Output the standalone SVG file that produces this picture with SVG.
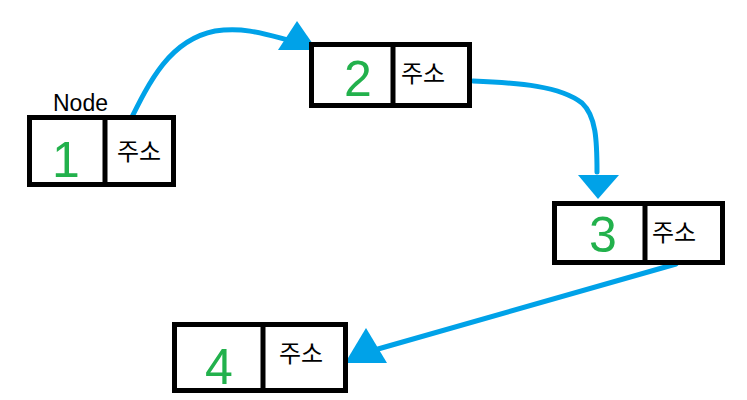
<svg xmlns="http://www.w3.org/2000/svg" width="747" height="400" viewBox="0 0 747 400">
<style>
.box{fill:#fff;stroke:#000;stroke-width:5}
.div{stroke:#000;stroke-width:5}
.num{font-family:"Liberation Sans",Arial,sans-serif;font-size:50px;fill:#22b14c;text-anchor:middle}
.addr{font-family:"Liberation Sans","Noto Sans CJK KR",sans-serif;font-size:24px;fill:#000}
.lbl{font-family:"Liberation Sans",Arial,sans-serif;font-size:23px;fill:#000}
.wire{fill:none;stroke:#00a2e8;stroke-width:5;stroke-linecap:round}
.head{fill:#00a2e8}
</style>
<rect width="747" height="400" fill="#fff"/>
<g id="connectors">
<path class="wire" d="M128,125 C150,80 170,40 215,31 C245,27 265,34 288,40"/>
<polygon class="head" points="297,21 278,50 317,50"/>
<path class="wire" d="M473,81 C520,83 560,86 582,103 C596,116 597,140 597,172"/>
<polygon class="head" points="578,175 619,175 598,199"/>
<path class="wire" d="M676,264 L378,349"/>
<polygon class="head" points="366,328 345,363 387,363"/>
</g>
<g id="node1">
<text class="lbl" x="53" y="111">Node</text>
<rect class="box" x="29.5" y="117.5" width="144" height="67"/>
<line class="div" x1="105" y1="117.5" x2="105" y2="184.5"/>
<text class="num" x="66" y="177">1</text>
<text class="addr" x="117" y="160">주소</text>
</g>
<g id="node2">
<rect class="box" x="311.5" y="44.5" width="158" height="61"/>
<line class="div" x1="393" y1="44.5" x2="393" y2="108"/>
<text class="num" x="358" y="96">2</text>
<text class="addr" x="401" y="82">주소</text>
</g>
<g id="node3">
<rect class="box" x="554.5" y="203.5" width="168" height="59"/>
<line class="div" x1="645" y1="203.5" x2="645" y2="262.5"/>
<text class="num" x="603" y="252">3</text>
<text class="addr" x="652" y="241">주소</text>
</g>
<g id="node4">
<rect class="box" x="174.5" y="324.5" width="171" height="66"/>
<line class="div" x1="263" y1="324.5" x2="263" y2="390.5"/>
<text class="num" x="219" y="384">4</text>
<text class="addr" x="279" y="362">주소</text>
</g>
</svg>
